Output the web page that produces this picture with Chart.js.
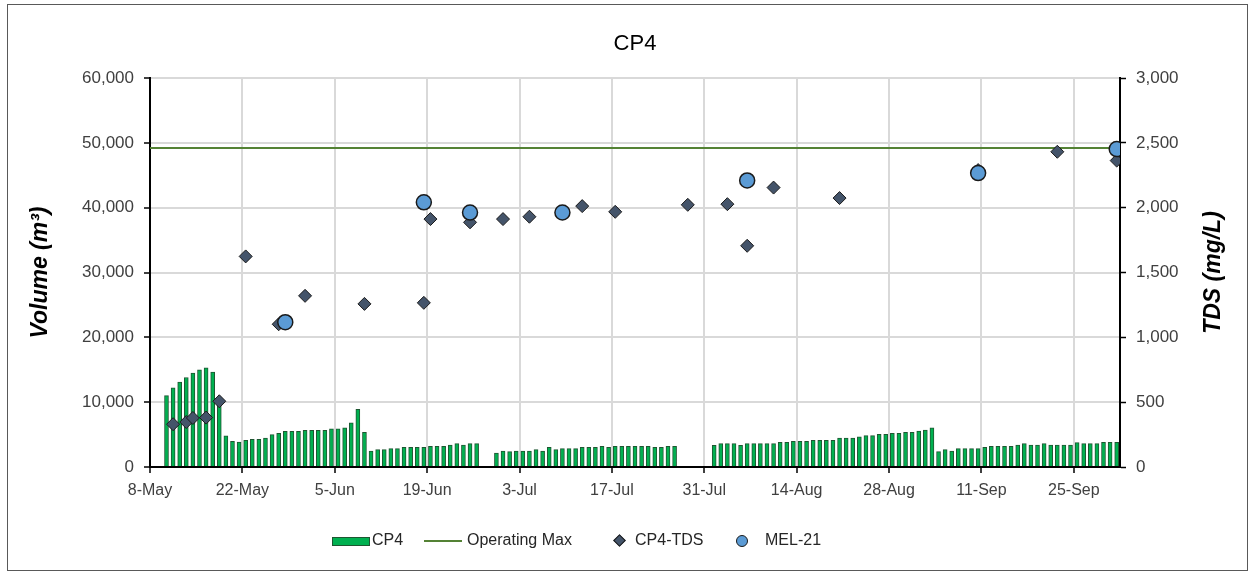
<!DOCTYPE html>
<html>
<head>
<meta charset="utf-8">
<script src="https://cdn.jsdelivr.net/npm/chart.js@4.4.1/dist/chart.umd.min.js"></script>
<style>
  html, body { margin: 0; padding: 0; background: #ffffff; }
  #wrap { position: relative; width: 1251px; height: 575px; overflow: hidden; background: #fff; }
  #chart { position: absolute; left: 0; top: 0; }
  #frame { position: absolute; left: 7px; top: 4px; width: 1241px; height: 567px; border: 1px solid #595959; box-sizing: border-box; pointer-events: none; }
  .lg { position: absolute; top: 531px; height: 20px; line-height: 20px; font: 16px "Liberation Sans", Arial, sans-serif; color: #262626; white-space: nowrap; }
  .sw { position: absolute; box-sizing: border-box; }
</style>
</head>
<body>
<div id="wrap">
  <canvas id="chart" width="1251" height="575"></canvas>
  <div id="frame"></div>
  <div id="legend"></div>
</div>
<script>
// ---------------- DATA ----------------
const chartTitle = 'CP4';
const axisStartDate = '2023-05-08';
const axisDays = 147;                 // axis runs 8-May .. 2-Oct
const xTickLabels = ['8-May','22-May','5-Jun','19-Jun','3-Jul','17-Jul','31-Jul','14-Aug','28-Aug','11-Sep','25-Sep'];
const xTickStepDays = 14;

const leftAxisTitle = 'Volume (m\u00B3)';
const rightAxisTitle = 'TDS (mg/L)';

// daily CP4 volume (m3), starting 10-May; null = no record
const volumeStartDate = '2023-05-10';
const volumeCP4 = [
  11000, 12200, 13100, 13800, 14500, 15000, 15300, 14650, 10000, 4800,
  3950, 3850, 4100, 4250, 4250, 4450, 5000, 5200, 5500, 5500,
  5500, 5650, 5650, 5650, 5650, 5900, 5900, 6050, 6800, 8900,
  5350, 2470, 2680, 2680, 2830, 2830, 3040, 3040, 3040, 3040,
  3200, 3200, 3200, 3400, 3600, 3400, 3600, 3600, null, null,
  2160, 2470, 2370, 2470, 2470, 2470, 2680, 2470, 3040, 2680,
  2830, 2830, 2830, 3040, 3040, 3040, 3200, 3040, 3200, 3200,
  3200, 3200, 3200, 3200, 3040, 3040, 3200, 3200, null, null,
  null, null, null, 3350, 3600, 3600, 3600, 3350, 3600, 3600,
  3600, 3600, 3600, 3800, 3800, 3950, 3950, 3950, 4100, 4100,
  4100, 4100, 4450, 4450, 4450, 4650, 4850, 4850, 5050, 5050,
  5200, 5200, 5350, 5350, 5550, 5700, 6050, 2370, 2680, 2470,
  2830, 2830, 2830, 2830, 3040, 3200, 3200, 3200, 3200, 3400,
  3600, 3400, 3400, 3600, 3400, 3400, 3400, 3400, 3750, 3600,
  3600, 3600, 3800, 3800, 3800
];

const operatingMax = 49200;   // m3

const tdsDates = ['2023-05-11','2023-05-13','2023-05-14','2023-05-16','2023-05-18','2023-05-22','2023-05-27','2023-05-31',
                  '2023-06-09','2023-06-18','2023-06-19','2023-06-25','2023-06-30','2023-07-04','2023-07-12','2023-07-17',
                  '2023-07-28','2023-08-03','2023-08-06','2023-08-10','2023-08-20','2023-09-10','2023-09-22','2023-10-01'];
const tdsValues = [330, 347, 378, 381, 507, 1624, 1101, 1320,
                   1258, 1266, 1912, 1887, 1912, 1930, 2012, 1968,
                   2022, 2027, 1706, 2155, 2074, 2290, 2431, 2363];

const melDates = ['2023-05-28','2023-06-18','2023-06-25','2023-07-09','2023-08-06','2023-09-10','2023-10-01'];
const melValues = [1117, 2041, 1962, 1963, 2210, 2267, 2452];

// ---------------- HELPERS ----------------
const DAY = 86400000;
function dayPos(dateStr) {
  // centre of the day's slot on the date axis
  return (Date.parse(dateStr + 'T00:00:00Z') - Date.parse(axisStartDate + 'T00:00:00Z')) / DAY + 0.5;
}
const volStart = dayPos(volumeStartDate);
const volumePoints = [];
volumeCP4.forEach((v, i) => { if (v !== null) volumePoints.push({ x: volStart + i, y: v }); });
const tdsPoints = tdsDates.map((d, i) => ({ x: dayPos(d), y: tdsValues[i] }));
const melPoints = melDates.map((d, i) => ({ x: dayPos(d), y: melValues[i] }));
const opMaxPoints = [{ x: 0, y: operatingMax }, { x: axisDays, y: operatingMax }];

const FONT = '"Liberation Sans", Arial, sans-serif';
const fmt = v => Number(v).toLocaleString('en-US');

// axis titles, drawn rotated (both read bottom-to-top)
const axisTitlePlugin = {
  id: 'axisTitles',
  afterDraw(chart) {
    const c = chart.ctx;
    const ca = chart.chartArea;
    const midY = (ca.top + ca.bottom) / 2;
    [[leftAxisTitle, 41], [rightAxisTitle, 1214]].forEach(([txt, x]) => {
      c.save();
      c.fillStyle = '#000';
      c.font = 'italic bold 23px ' + FONT;
      c.textAlign = 'center';
      c.textBaseline = 'middle';
      c.translate(x, midY);
      c.rotate(-Math.PI / 2);
      c.fillText(txt, 0, 0);
      c.restore();
    });
  }
};

const ctx = document.getElementById('chart').getContext('2d');
new Chart(ctx, {
  type: 'bar',
  data: {
    datasets: [
      { type: 'line', label: 'MEL-21', data: melPoints, yAxisID: 'y2', showLine: false,
        pointStyle: 'circle', pointRadius: 7.5, pointHoverRadius: 7.5,
        pointBackgroundColor: '#5B9BD5', pointBorderColor: '#1a1a1a', pointBorderWidth: 1.5, order: 0 },
      { type: 'line', label: 'CP4-TDS', data: tdsPoints, yAxisID: 'y2', showLine: false,
        pointStyle: 'rectRot', pointRadius: 6.5, pointHoverRadius: 6.5,
        pointBackgroundColor: '#44546A', pointBorderColor: '#1a1a1a', pointBorderWidth: 1, order: 1 },
      { type: 'line', label: 'Operating Max', data: opMaxPoints, yAxisID: 'y',
        borderColor: '#548235', borderWidth: 2, pointRadius: 0, order: 2 },
      { type: 'bar', label: 'CP4', data: volumePoints, yAxisID: 'y',
        backgroundColor: '#00B050', borderColor: '#1E5631', borderWidth: 1, barThickness: 4, order: 3 }
    ]
  },
  options: {
    responsive: false,
    animation: false,
    events: [],
    layout: { padding: { left: 0, right: 0, top: 0, bottom: 0 } },
    plugins: {
      legend: { display: false },
      tooltip: { enabled: false },
      title: {
        display: true, text: chartTitle, fullSize: false,
        color: '#000', font: { family: FONT, size: 22, weight: 'normal' },
        padding: { top: 31, bottom: 20.6 }
      }
    },
    scales: {
      x: {
        type: 'linear', min: 0, max: axisDays, offset: false,
        ticks: {
          stepSize: xTickStepDays, includeBounds: false, autoSkip: false, maxRotation: 0,
          color: '#404040', font: { family: FONT, size: 16 }, padding: 8,
          callback: v => xTickLabels[Math.round(v / xTickStepDays)] || ''
        },
        grid: { offset: false, color: '#D9D9D9', lineWidth: 2, tickColor: '#000', tickLength: 6, tickWidth: 1.5 },
        border: { color: '#000', width: 2 },
        afterFit: s => { s.height = 108; }
      },
      y: {
        position: 'left', min: 0, max: 60000,
        ticks: { stepSize: 10000, color: '#404040', font: { family: FONT, size: 17 }, padding: 10, callback: fmt },
        grid: { color: '#D9D9D9', lineWidth: 2, tickColor: '#000', tickLength: 6, tickWidth: 1.5 },
        border: { color: '#000', width: 2 },
        afterFit: s => { s.width = 150; }
      },
      y2: {
        position: 'right', min: 0, max: 3000,
        ticks: { stepSize: 500, color: '#404040', font: { family: FONT, size: 17 }, padding: 10, callback: fmt },
        grid: { drawOnChartArea: false, tickColor: '#000', tickLength: 6, tickWidth: 1.5 },
        border: { color: '#000', width: 2 },
        afterFit: s => { s.width = 131; }
      }
    }
  },
  plugins: [axisTitlePlugin]
});

// ---------------- LEGEND (HTML, real text) ----------------
const legendItems = [
  { label: 'CP4', kind: 'bar', swLeft: 332, textLeft: 372 },
  { label: 'Operating Max', kind: 'line', swLeft: 424, textLeft: 467 },
  { label: 'CP4-TDS', kind: 'diamond', swLeft: 615, textLeft: 635 },
  { label: 'MEL-21', kind: 'circle', swLeft: 736, textLeft: 765 }
];
const lg = document.getElementById('legend');
legendItems.forEach(it => {
  const sw = document.createElement('div');
  sw.className = 'sw';
  if (it.kind === 'bar') {
    Object.assign(sw.style, { left: it.swLeft + 'px', top: '537px', width: '38px', height: '9px', background: '#00B050', border: '1px solid #1E5631' });
  } else if (it.kind === 'line') {
    Object.assign(sw.style, { left: it.swLeft + 'px', top: '540px', width: '38px', height: '2px', background: '#548235' });
  } else if (it.kind === 'diamond') {
    Object.assign(sw.style, { left: it.swLeft + 'px', top: '536px', width: '9px', height: '9px', background: '#44546A', border: '1px solid #1a1a1a', transform: 'rotate(45deg)' });
  } else {
    Object.assign(sw.style, { left: it.swLeft + 'px', top: '535px', width: '12px', height: '12px', background: '#5B9BD5', border: '1.5px solid #1a1a1a', borderRadius: '50%' });
  }
  lg.appendChild(sw);
  const t = document.createElement('div');
  t.className = 'lg';
  t.style.left = it.textLeft + 'px';
  t.textContent = it.label;
  lg.appendChild(t);
});
</script>
</body>
</html>
